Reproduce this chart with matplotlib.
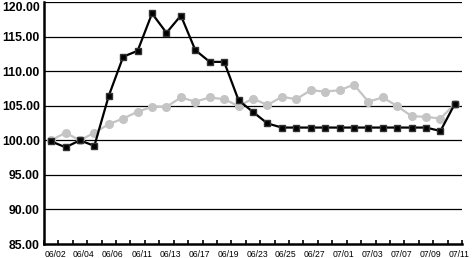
import numpy as np
import matplotlib
matplotlib.use("Agg")
import matplotlib.pyplot as plt
import matplotlib.transforms as mtransforms

# categorias (dias de negociacion), solo se rotula uno de cada dos
dates = ["06/02", "06/03", "06/04", "06/05", "06/06", "06/10", "06/11", "06/12",
         "06/13", "06/16", "06/17", "06/18", "06/19", "06/20", "06/23", "06/24",
         "06/25", "06/26", "06/27", "06/30", "07/01", "07/02", "07/03", "07/04",
         "07/07", "07/08", "07/09", "07/10", "07/11"]

black_vals = [99.85, 99.0, 100.0, 99.2, 106.45, 112.1, 112.95, 118.35, 115.55,
              118.05, 113.05, 111.35, 111.35, 105.8, 104.1, 102.45, 101.85, 101.85,
              101.85, 101.85, 101.85, 101.85, 101.85, 101.85, 101.85, 101.85, 101.85,
              101.35, 105.3]

grey_vals = [100.0, 101.1, 100.0, 101.1, 102.35, 103.15, 104.15, 104.85, 104.85,
             106.2, 105.6, 106.2, 105.95, 104.95, 106.05, 105.1, 106.3, 105.95,
             107.25, 107.05, 107.25, 108.05, 105.6, 106.2, 104.95, 103.5, 103.4,
             103.15, 105.3]

yticks = [85, 90, 95, 100, 105, 110, 115, 120]

fig = plt.figure(figsize=(4.72, 2.58), dpi=100)
ax = fig.add_axes([0.093, 0.054, 0.886, 0.938])

x = np.arange(len(dates))
ax.plot(x, grey_vals, color="#c4c4c4", lw=1.6, marker="o", ms=5.5,
        mfc="#c4c4c4", mec="#c4c4c4", zorder=3)
ax.plot(x, black_vals, color="black", lw=1.6, marker="s", ms=5,
        mfc="black", mec="#333333", zorder=4)

ax.set_xlim(-0.5, len(dates) - 0.5)
ax.set_ylim(85, 120)

ax.set_yticks(yticks)
ax.set_yticklabels([f"{v:.2f}" for v in yticks], fontsize=8.8,
                   fontweight="bold", family="Liberation Sans")
ax.tick_params(axis="y", length=0, pad=3)
# la etiqueta superior se baja para que no se corte
ax.get_yticklabels()[-1].set_va("top")
for v in yticks[1:]:
    ax.axhline(v, color="black", lw=0.9, zorder=1)

ax.set_xticks(x[::2])
ax.set_xticklabels(dates[::2], fontsize=6.2, family="Liberation Sans")
ax.set_xticks(np.arange(-0.5, len(dates), 1.0), minor=True)
ax.tick_params(axis="x", which="major", length=0, pad=4)
ax.tick_params(axis="x", which="minor", direction="in", length=3, width=1.2)
offset = mtransforms.ScaledTranslation(4 / 100, 0, fig.dpi_scale_trans)
for lbl in ax.get_xticklabels():
    lbl.set_transform(lbl.get_transform() + offset)

for side in ["top", "right"]:
    ax.spines[side].set_visible(False)
ax.spines["left"].set_linewidth(1.8)
ax.spines["bottom"].set_linewidth(1.8)

fig.savefig("out.png", dpi=100)
